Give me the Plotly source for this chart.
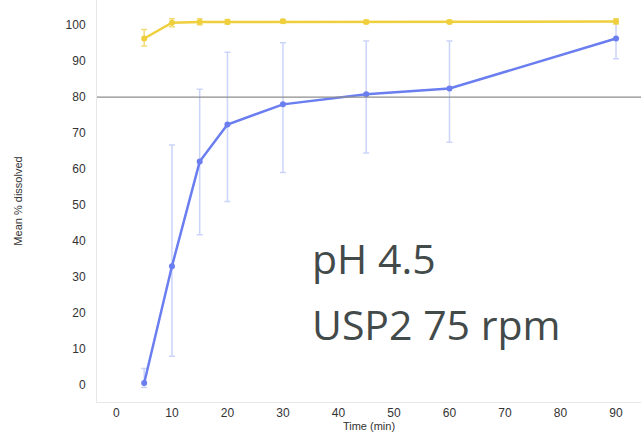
import plotly.graph_objects as go

time_min = [5, 10, 15, 20, 30, 45, 60, 90]

yellow_mean = [96.3, 100.7, 100.9, 100.9, 101.1, 100.9, 100.9, 101.0]
yellow_hi = [98.8, 101.8, 101.8, 101.6, 101.6, 101.4, 101.4, 101.8]
yellow_lo = [94.2, 99.6, 100.1, 100.3, 100.6, 100.5, 100.5, 100.3]

blue_mean = [0.6, 33.0, 62.1, 72.4, 78.0, 80.8, 82.4, 96.3]
blue_hi = [4.6, 66.7, 82.2, 92.5, 95.1, 95.6, 95.6, 101.0]
blue_lo = [-0.7, 8.0, 41.8, 51.0, 59.1, 64.5, 67.5, 90.7]

threshold = 80
x_ticks = [0, 10, 20, 30, 40, 50, 60, 70, 80, 90]
y_ticks = [0, 10, 20, 30, 40, 50, 60, 70, 80, 90, 100]

fig = go.Figure()

def add_series(mean, hi, lo, line_color, err_color):
    fig.add_trace(go.Scatter(
        x=time_min, y=mean, mode="lines+markers",
        line=dict(color=line_color, width=2.5),
        marker=dict(color=line_color, size=6),
        error_y=dict(type="data", symmetric=False,
                     array=[h - m for h, m in zip(hi, mean)],
                     arrayminus=[m - l for m, l in zip(mean, lo)],
                     color=err_color, thickness=1.5, width=3),
        showlegend=False,
    ))

add_series(blue_mean, blue_hi, blue_lo, "#6a7ef0", "rgba(140,160,245,0.45)")
add_series(yellow_mean, yellow_hi, yellow_lo, "#efcf3c", "rgba(235,205,60,0.7)")

fig.add_hline(y=threshold, line=dict(color="#8c8c8c", width=1.3))

fig.add_annotation(x=0.392, y=0.358, xref="paper", yref="paper", text="pH 4.5",
                   showarrow=False, xanchor="left", yanchor="middle",
                   font=dict(family="Open Sans", size=41, color="#434a4a"))
fig.add_annotation(x=0.392, y=0.195, xref="paper", yref="paper", text="USP2 75 rpm",
                   showarrow=False, xanchor="left", yanchor="middle",
                   font=dict(family="Open Sans", size=41, color="#434a4a"))

fig.update_layout(
    width=641, height=439,
    margin=dict(l=97, r=0, t=0, b=37),
    plot_bgcolor="white", paper_bgcolor="white",
    font=dict(family="Liberation Sans, Arial", color="#333333", size=12),
)
fig.update_xaxes(range=[-3.5, 94.5], tickvals=x_ticks, showgrid=False,
                 zeroline=False, showline=True, linecolor="#e8e8e8", linewidth=1,
                 ticks="", title=dict(text="Time (min)", font=dict(size=11), standoff=1))
fig.update_yaxes(range=[-4.7, 107], tickvals=y_ticks, showgrid=False,
                 zeroline=False, showline=True, linecolor="#e8e8e8", linewidth=1,
                 ticks="", ticklabelstandoff=8,
                 title=dict(text="Mean % dissolved", font=dict(size=11), standoff=40))

fig.write_html("out.html")
